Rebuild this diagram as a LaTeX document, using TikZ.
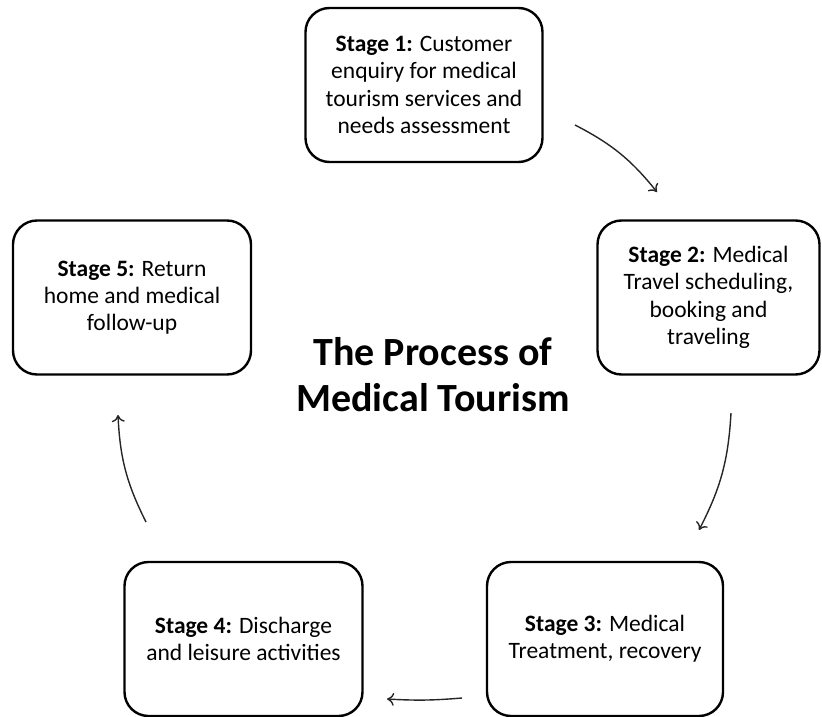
\documentclass[tikz,border=0pt]{standalone}
\usepackage{fontspec}
\setmainfont{Carlito}
\usetikzlibrary{arrows.meta}
\newcommand{\stg}[1]{\textbf{Stage #1:}\hspace{0.3em}}
\begin{document}
\begin{tikzpicture}[x=1pt,y=-1pt,
  stagebox/.style={draw, line width=2.4pt, rounded corners=24pt, minimum width=#1, minimum height=154pt, align=center, font=\fontsize{23.5}{27.3}\selectfont, inner sep=0pt},
  flow/.style={line width=1.4pt, draw=black!85, -{To[length=7pt,width=13pt,line width=1.4pt]}}]
\useasboundingbox (0,0) rectangle (822,717);
\node[stagebox=237pt] (s1) at (424,85) {\stg{1}Customer\\enquiry for medical\\tourism services and\\needs assessment};
\node[stagebox=222pt] (s2) at (708.5,297.5) {\stg{2}Medical\\Travel scheduling,\\booking and\\traveling};
\node[stagebox=236pt] (s3) at (605,639) {\stg{3}Medical\\Treatment, recovery};
\node[stagebox=238pt] (s4) at (243.5,639) {\stg{4}Discharge\\and leisure activities};
\node[stagebox=238pt] (s5) at (132,297.5) {\stg{5}Return\\home and medical\\follow-up};
\node[align=center, font=\bfseries\fontsize{40}{46}\selectfont] (title) at (433,375) {The Process of\\Medical Tourism};
\coordinate (a1s) at (575,125); \coordinate (a1e) at (657,192);
\coordinate (a2s) at (731,413); \coordinate (a2e) at (699,530);
\coordinate (a3s) at (462,698); \coordinate (a3e) at (387,699);
\coordinate (a4s) at (146,522); \coordinate (a4e) at (118,415);
\draw[flow] (a1s) to[bend left=12] (a1e);
\draw[flow] (a2s) to[bend left=12] (a2e);
\draw[flow] (a3s) to[bend left=4] (a3e);
\draw[flow] (a4s) to[bend left=12] (a4e);
\end{tikzpicture}
\end{document}
